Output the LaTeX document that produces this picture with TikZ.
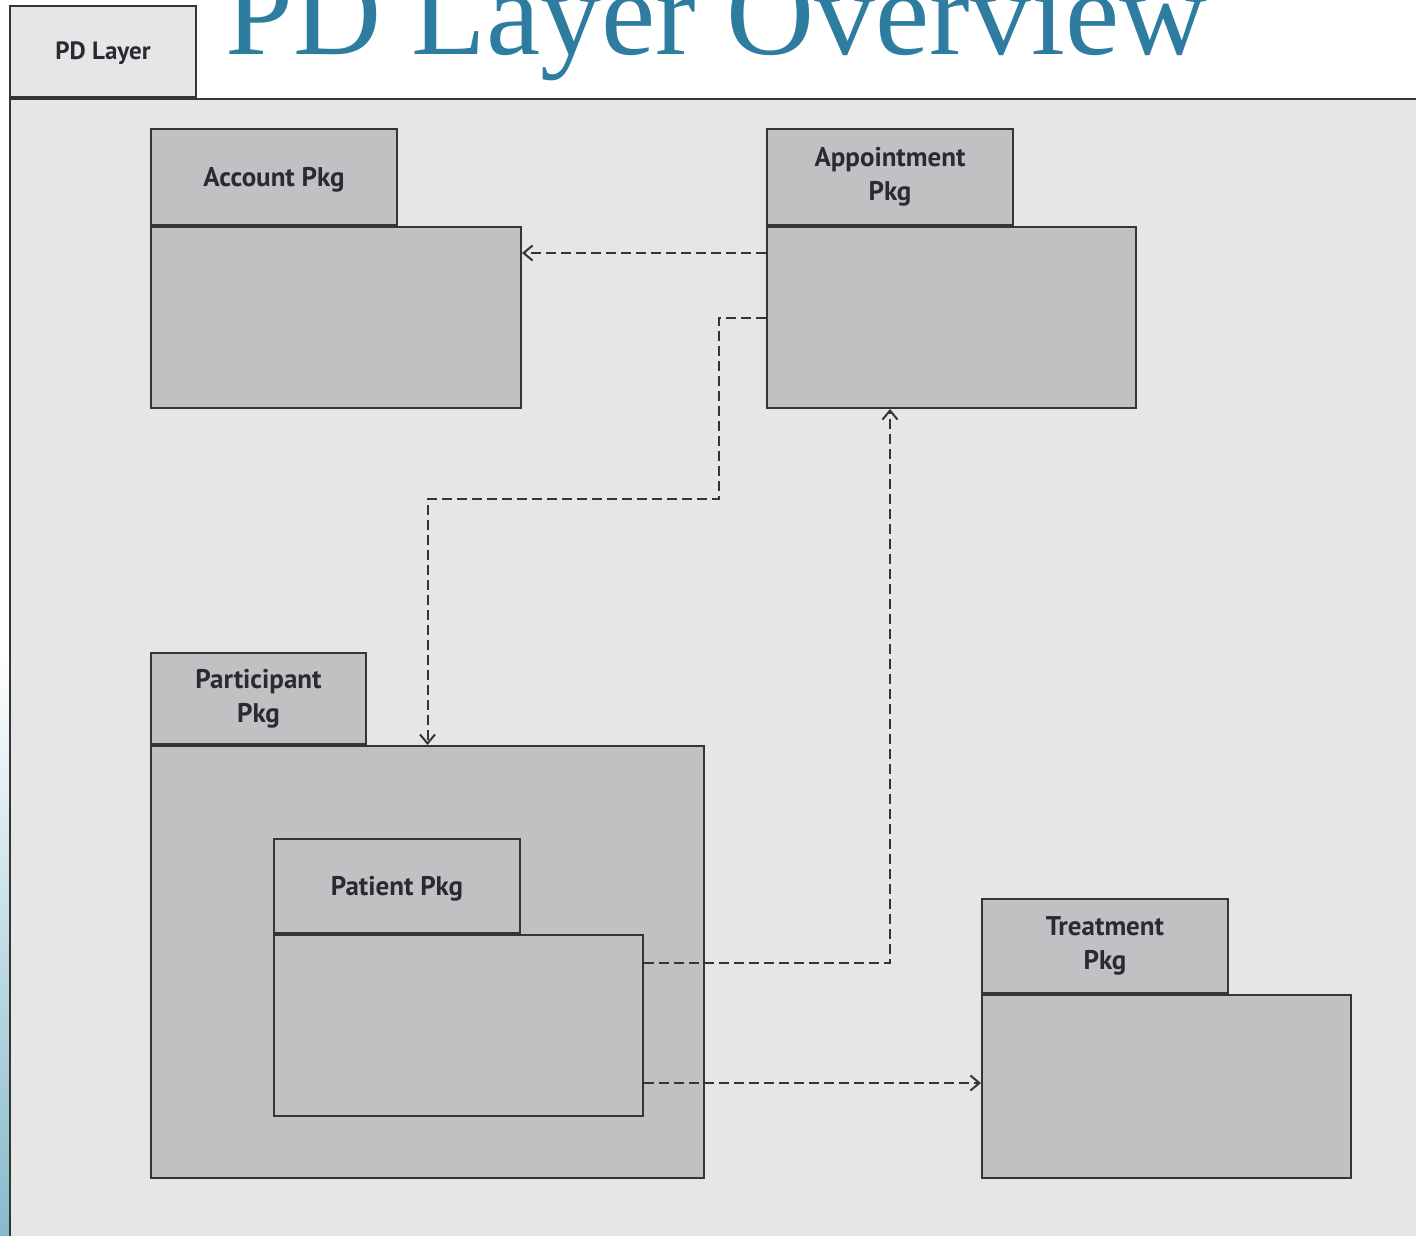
\documentclass[tikz,border=0pt]{standalone}
\usepackage{fontspec}
\setmainfont{Liberation Serif}
\newfontfamily\pkgfont{PT Sans}
\usetikzlibrary{arrows.meta}
\definecolor{layerfill}{HTML}{E6E6E6}
\definecolor{pkgfill}{HTML}{C0C1C3}
\definecolor{pkgline}{HTML}{353535}
\definecolor{pkgtext}{HTML}{2A2A35}
\definecolor{titleblue}{HTML}{2E7DA1}
\definecolor{edgeblue}{HTML}{86BACB}

\begin{document}
\begin{tikzpicture}[x=1pt,y=-1pt,
		pkgbody/.style={draw=pkgline, line width=2pt, fill=pkgfill, inner sep=0pt, anchor=north west},
		pkgtab/.style={draw=pkgline, line width=2pt, fill=pkgfill, inner sep=0pt, anchor=south west,
			minimum width=246pt, align=center, text=pkgtext,
			font=\pkgfont\bfseries\fontsize{27}{34}\selectfont},
		oneline/.style={text height=25pt},
		dep/.style={draw=pkgline, line width=2pt, dash pattern=on 10pt off 5pt,
			-{Straight Barb[length=9pt,width=15pt,line width=2pt]}}]

		\useasboundingbox (0,0) rectangle (1416,1236);
		\clip (0,0) rectangle (1416,1236);

		\shade[top color=white, bottom color=edgeblue] (0,650) rectangle (10,1236);

		\node[pkgbody, fill=layerfill, minimum width=1440pt, minimum height=1170pt] (layerbody) at (9,98) {};
		\node[pkgtab, fill=layerfill, minimum width=186pt, minimum height=91pt, text height=22pt,
			font=\pkgfont\bfseries\fontsize{25}{30}\selectfont] (layertab) at (layerbody.north west) {PD Layer};

		\node[anchor=base west, text=titleblue, inner sep=0pt,
			font=\fontsize{122}{130}\selectfont] (title) at (225,55) {PD Layer Overview};

		\node[pkgbody, minimum width=370pt, minimum height=181pt] (accbody) at (150,226) {};
		\node[pkgtab, oneline, minimum height=96pt] (acctab) at (accbody.north west) {Account Pkg};

		\node[pkgbody, minimum width=369pt, minimum height=181pt] (apptbody) at (766,226) {};
		\node[pkgtab, minimum height=96pt] (appttab) at (apptbody.north west) {Appointment\\Pkg};

		\node[pkgbody, minimum width=553pt, minimum height=432pt] (partbody) at (150,745) {};
		\node[pkgtab, minimum width=215pt, minimum height=91pt] (parttab) at (partbody.north west) {Participant\\Pkg};

		\node[pkgbody, minimum width=369pt, minimum height=181pt] (patbody) at (273,934) {};
		\node[pkgtab, oneline, minimum height=94pt] (pattab) at (patbody.north west) {Patient Pkg};

		\node[pkgbody, minimum width=369pt, minimum height=183pt] (treatbody) at (981,994) {};
		\node[pkgtab, minimum height=94pt] (treattab) at (treatbody.north west) {Treatment\\Pkg};

		\coordinate (bend) at (719,499);

		\draw[dep] ([yshift=-27pt]apptbody.north west) -- ([yshift=-27pt]accbody.north east);
		\draw[dep] ([yshift=-92pt]apptbody.north west) -| (bend) -| (partbody.north);
		\draw[dep] ([yshift=-29pt]patbody.north east) -| (appttab.south |- apptbody.south);
		\draw[dep] ([yshift=-149pt]patbody.north east) -- ([yshift=-89pt]treatbody.north west);

\end{tikzpicture}
\end{document}
